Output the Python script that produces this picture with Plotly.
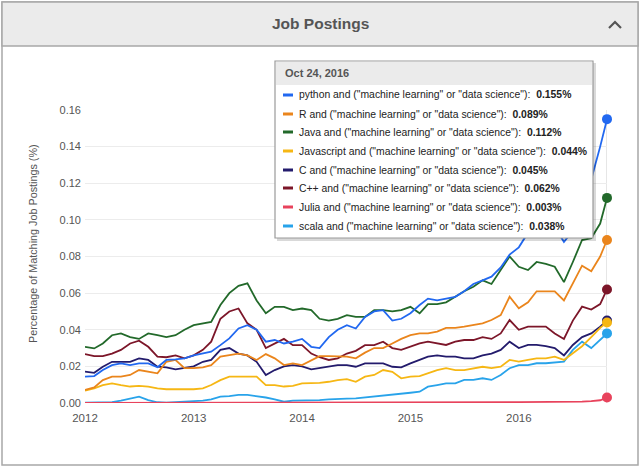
import plotly.graph_objects as go
import pandas as pd

# Monatliche Werte (Anteil der Stellenanzeigen in %), Jan 2012 - Okt 2016, plus 24. Okt 2016
datum = list(pd.date_range("2012-01-01", "2016-10-01", freq="MS").strftime("%Y-%m-%d")) + ["2016-10-24"]

python = [.0144, .0147, .018, .0207, .0216, .0207, .0216, .0216, .0195, .0235, .0238, .0244, .026, .027, .028,
          .0316, .0353, .0407, .0425, .040, .0335, .0344, .0325, .0335, .035, .0307, .030, .036, .040, .0425,
          .0407, .047, .050, .0507, .045, .046, .049, .0535, .057, .056, .057, .058, .061, .065, .067, .069,
          .074, .081, .085, .093, .097, .100, .096, .088, .094, .108, .122, .140, .155]
r_lang = [.0071, .0085, .0125, .0144, .0144, .0153, .018, .017, .0162, .0225, .0235, .019, .019, .0195, .0207,
          .0253, .026, .027, .026, .0235, .0267, .0244, .0207, .0216, .0207, .0235, .0256, .0256, .0253, .0253,
          .0244, .0275, .030, .030, .0325, .035, .037, .038, .038, .039, .041, .041, .0417, .0426, .0435, .0453,
          .048, .058, .0517, .055, .061, .061, .061, .056, .065, .075, .072, .080, .089]
java = [.0307, .0298, .0325, .037, .038, .036, .035, .038, .037, .036, .037, .040, .0425, .0435, .0443,
        .0535, .060, .064, .0653, .056, .049, .0525, .0525, .0507, .0516, .0507, .046, .045, .046, .048,
        .047, .047, .0507, .0507, .050, .0507, .0525, .049, .054, .054, .055, .058, .061, .0635, .067, .065,
        .0726, .080, .0744, .0726, .077, .076, .0744, .066, .077, .089, .090, .098, .112]
javascript = [.0067, .008, .0098, .0107, .0098, .009, .0093, .009, .008, .0075, .0075, .0075, .0075, .008, .0098,
              .0125, .0144, .0144, .0144, .0144, .0098, .0098, .009, .0093, .0107, .0107, .011, .0116, .0125, .013,
              .0116, .0144, .0153, .018, .017, .0135, .0144, .0147, .0162, .018, .019, .018, .018, .019, .0198, .019,
              .0198, .0235, .0226, .0235, .0244, .0244, .0253, .0235, .027, .031, .036, .041, .044]
c_lang = [.0171, .0165, .0198, .0225, .0225, .0225, .0244, .0235, .0198, .0195, .0184, .019, .020, .0225, .0235,
          .029, .030, .027, .026, .0225, .0153, .018, .020, .0207, .020, .0184, .019, .0198, .0207, .0207,
          .0198, .0216, .0216, .0216, .0198, .0195, .0216, .0235, .0253, .026, .0253, .0253, .0244, .0244, .026, .027,
          .029, .0335, .030, .0317, .0317, .031, .030, .026, .0317, .036, .038, .0417, .045]
cpp = [.0267, .0256, .0256, .027, .029, .0325, .034, .0307, .0253, .025, .026, .0244, .026, .029, .0335,
       .046, .050, .0516, .0435, .040, .030, .0325, .035, .0316, .0316, .027, .025, .0235, .0244, .027,
       .0285, .0316, .0316, .0335, .030, .029, .0307, .0325, .0335, .0326, .0317, .0335, .0344, .0344, .036, .035,
       .038, .0453, .040, .0417, .0417, .0417, .038, .035, .045, .0526, .051, .054, .062]
julia = [0, 0, 0, 0, 0, 0, 0, 0, 0, 0, 0, 0, 0, 0, 0,
         0, 0, 0, 0, 0, 0, 0, 0, 0, 0, 0, 0, 0, 0, 0,
         0, 0, 0, 0, 0, 0, 0, 0, .0002, .0003, .0003, .0003, .0003, .0004, .0003, .0004,
         .0004, .0004, .0005, .0005, .0005, .0005, .0005, .0006, .0006, .0008, .001, .0015, .003]
scala = [.0002, .0002, .0004, .0005, .0013, .0025, .0035, .0016, .0004, .0002, .0005, .0005, .0009, .0013, .002,
         .0035, .0038, .0044, .0044, .0038, .003, .002, .0007, .0013, .0013, .0016, .0016, .002, .002, .0024,
         .0025, .003, .0035, .0038, .0044, .005, .0056, .0062, .0089, .0098, .0107, .0107, .0126, .0126, .0135, .0126,
         .0153, .019, .0207, .0207, .0217, .0217, .022, .0226, .029, .0335, .030, .0344, .038]

namn = ['python and ("machine learning" or "data science")',
        'R and ("machine learning" or "data science")',
        'Java and ("machine learning" or "data science")',
        'Javascript and ("machine learning" or "data science")',
        'C and ("machine learning" or "data science")',
        'C++ and ("machine learning" or "data science")',
        'Julia and ("machine learning" or "data science")',
        'scala and ("machine learning" or "data science")']
serier = [python, r_lang, java, javascript, c_lang, cpp, julia, scala]
farger = ["#2168f0", "#ea851c", "#22692a", "#f6b714", "#231b6c", "#7c1629", "#e8435c", "#28a3ea"]

ax_x = [2012, 2013, 2014, 2015, 2016]
hover_datum = "Oct 24, 2016"

FONT = "Liberation Sans, Arial, sans-serif"

# Plottytans gränser i pixlar
L, R, T, B = 85, 607, 110, 403
W, H = 640, 468


def px(x):
    return (x - L) / (R - L)


def py(y):
    return (B - y) / (B - T)


def text(txt, x, y, size, color="#555555", xanchor="center", angle=0):
    return dict(text=txt, xref="paper", yref="paper", x=px(x), y=py(y), xanchor=xanchor, yanchor="middle",
                textangle=angle, showarrow=False, font=dict(family=FONT, size=size, color=color))


fig = go.Figure()

# Linjerna ritas i omvänd ordning så att python hamnar överst
for namn_i, data, farg in reversed(list(zip(namn, serier, farger))):
    fig.add_trace(go.Scatter(x=datum, y=data, mode="lines", name=namn_i,
                             line=dict(color=farg, width=1.8), hoverinfo="skip"))

# Punkter vid sista datumet (hover-läget)
for data, farg in reversed(list(zip(serier, farger))):
    fig.add_trace(go.Scatter(x=[datum[-1]], y=[data[-1]], mode="markers", cliponaxis=False,
                             marker=dict(color=farg, size=10), hoverinfo="skip", showlegend=False))

shapes = []
annotations = []

# Panelens ram och rubrikfält
shapes.append(dict(type="rect", xref="paper", yref="paper", x0=px(2), x1=px(638), y0=py(465), y1=py(2),
                   line=dict(color="#a8a8a8", width=1.5), fillcolor="rgba(0,0,0,0)", layer="below"))
shapes.append(dict(type="rect", xref="paper", yref="paper", x0=px(2), x1=px(638), y0=py(46), y1=py(2),
                   line=dict(color="#a8a8a8", width=1.5), fillcolor="#ebebeb", layer="below"))
annotations.append(text("<b>Job Postings</b>", 320, 23, 15.5))
# Pil uppåt i rubriken
shapes.append(dict(type="path", xref="paper", yref="paper",
                   path=f"M {px(609)} {py(28)} L {px(615)} {py(22)} L {px(621)} {py(28)}",
                   line=dict(color="#555555", width=2.2)))

# Vertikal hover-linje
shapes.append(dict(type="line", xref="x", yref="paper", x0=datum[-1], x1=datum[-1], y0=0, y1=1,
                   line=dict(color="#cccccc", width=1), layer="below"))

# Y-axelns titel
annotations.append(text("Percentage of Matching Job Postings (%)", 33, 244, 10.8, angle=-90))

# Tooltip-ruta
tl, tr, tt, tb = 275, 593, 61, 238
shapes.append(dict(type="rect", xref="paper", yref="paper", x0=px(tl + 2), x1=px(tr + 3), y0=py(tb + 3), y1=py(tt + 2),
                   line=dict(width=0), fillcolor="rgba(0,0,0,0.15)"))
shapes.append(dict(type="rect", xref="paper", yref="paper", x0=px(tl), x1=px(tr), y0=py(tb), y1=py(tt),
                   line=dict(color="#9a9a9a", width=1.2), fillcolor="white"))
shapes.append(dict(type="rect", xref="paper", yref="paper", x0=px(tl + 1), x1=px(tr - 1), y0=py(85), y1=py(tt + 1),
                   line=dict(width=0), fillcolor="#ebebeb"))
annotations.append(text(f"<b>{hover_datum}</b>", 283, 73, 11, xanchor="left"))
rad_y = [95, 114, 132, 151, 170, 188, 207, 226]
for namn_i, data, farg, yy in zip(namn, serier, farger, rad_y):
    shapes.append(dict(type="rect", xref="paper", yref="paper", x0=px(283), x1=px(293), y0=py(yy + 1.5),
                       y1=py(yy - 1.5), line=dict(width=0), fillcolor=farg))
    annotations.append(text(f"{namn_i}:  <b>{data[-1]:.3f}%</b>", 297, yy, 10.4, color="#222222", xanchor="left"))

fig.update_layout(
    width=W, height=H,
    margin=dict(l=L, r=W - R, t=T, b=H - B),
    paper_bgcolor="white", plot_bgcolor="white",
    showlegend=False,
    shapes=shapes, annotations=annotations,
    font=dict(family=FONT, size=12, color="#555555"),
)
fig.update_xaxes(type="date", range=["2012-01-01", datum[-1]],
                 tickvals=[f"{a}-01-01" for a in ax_x], ticktext=[str(a) for a in ax_x],
                 showgrid=False, zeroline=False, showline=False, ticks="", ticklabelstandoff=6,
                 tickfont=dict(family=FONT, size=11.5, color="#555555"))
fig.update_yaxes(range=[0, 0.16], dtick=0.02, tickformat=".2f", showgrid=True, gridcolor="#ececec",
                 zeroline=False, showline=False, ticks="", ticklabelstandoff=3,
                 tickfont=dict(family=FONT, size=11, color="#555555"))

# Sidans standardmarginal tas bort så att figuren börjar i hörnet
fig.write_html("out.html", config={"displayModeBar": False},
               post_script="document.body.style.margin='0';")
